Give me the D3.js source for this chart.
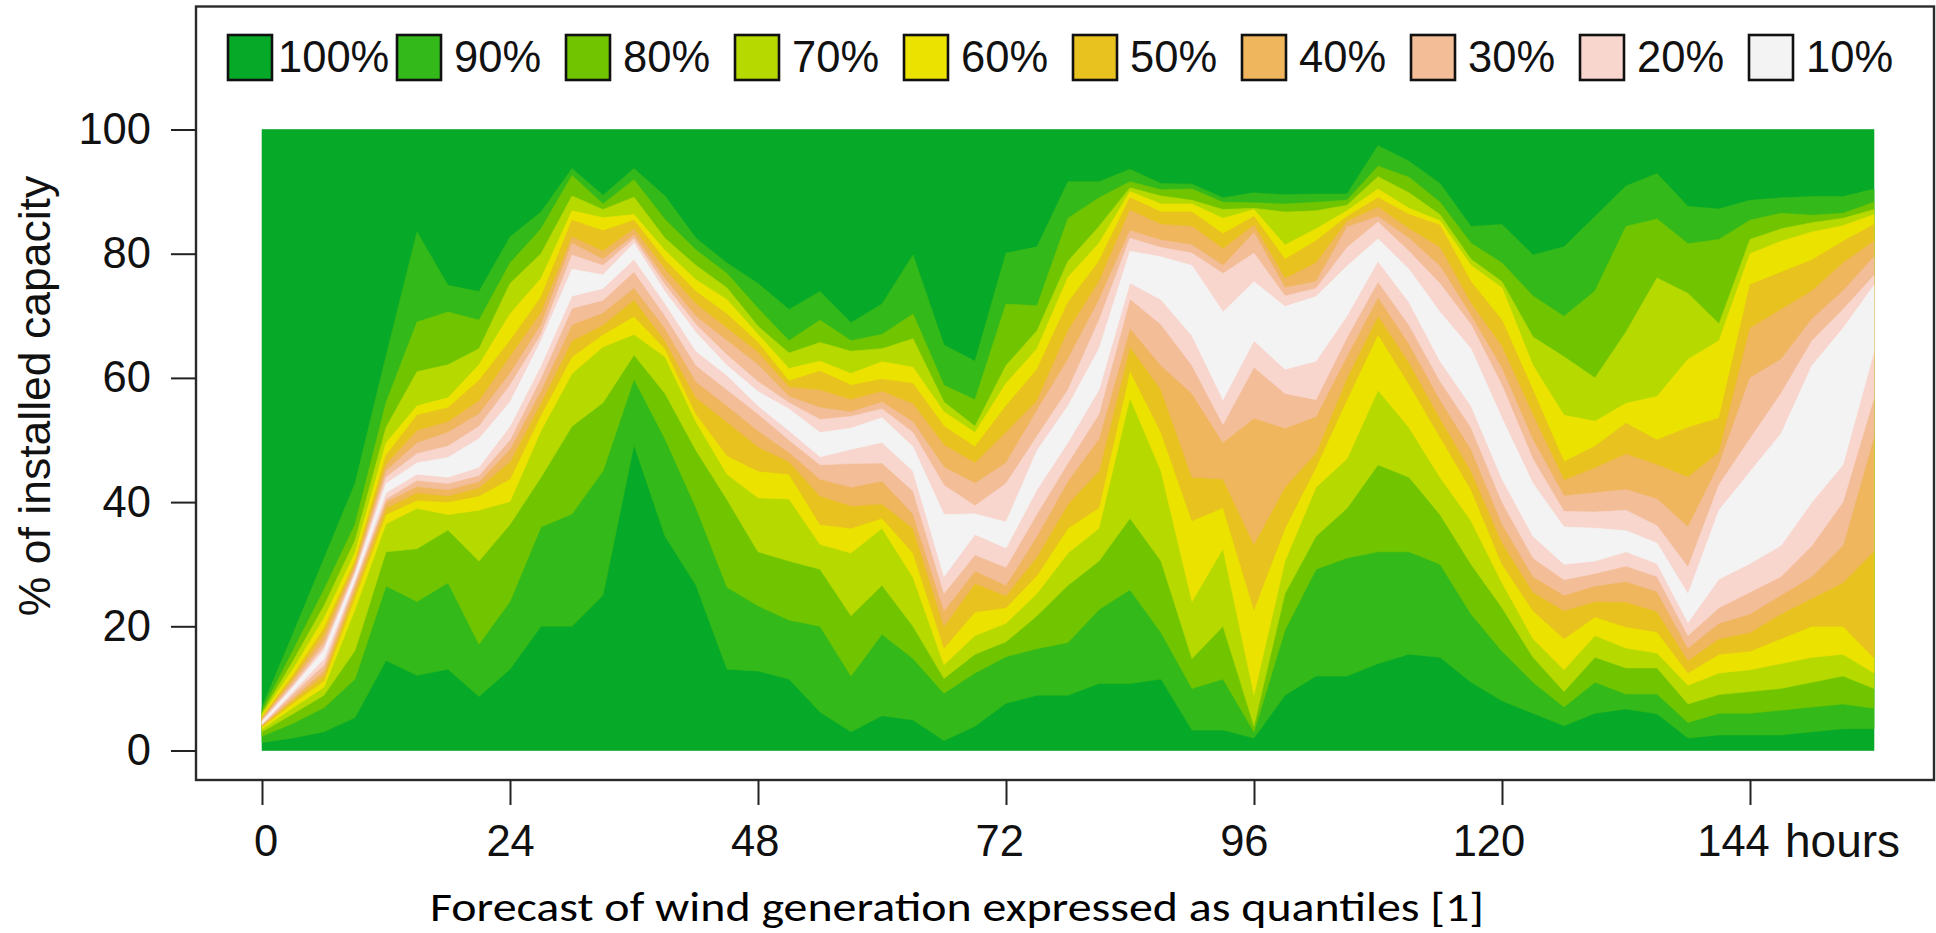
<!DOCTYPE html>
<html>
<head>
<meta charset="utf-8">
<script src="https://cdn.jsdelivr.net/npm/d3@7"></script>
<style>
  html, body { margin: 0; padding: 0; background: #ffffff; }
  svg { display: block; }
</style>
</head>
<body>
<svg id="chart" width="1936" height="933"></svg>
<script>
// Forecast horizon (hours ahead) at which the quantiles are given
const hours = [0, 3, 6, 9, 12, 15, 18, 21, 24, 27, 30, 33, 36, 39, 42, 45, 48, 51, 54, 57,
  60, 63, 66, 69, 72, 75, 78, 81, 84, 87, 90, 93, 96, 99, 102, 105, 108, 111, 114, 117,
  120, 123, 126, 129, 132, 135, 138, 141, 144, 147, 150, 153, 156];

// Quantiles of wind generation, % of installed capacity
const q05 = [1.3, 2.0, 3.0, 5.3, 14.5, 12.1, 13.1, 8.7, 13.1, 20.0, 20.0, 25.0, 49.2, 34.5, 26.6, 13.1, 12.8, 11.5, 6.2, 3.0, 5.6, 4.9, 1.6, 3.9, 7.6, 8.9, 8.9, 10.8, 10.8, 11.5, 3.3, 3.3, 2.0, 8.9, 12.0, 12.0, 14.0, 15.5, 15.0, 11.0, 8.0, 6.0, 4.0, 6.0, 6.7, 5.9, 2.0, 2.5, 2.5, 2.5, 3.0, 3.5, 3.5];
const q10 = [2.3, 4.4, 6.9, 11.5, 26.5, 24.0, 27.0, 17.1, 24.0, 36.0, 38.1, 45.0, 59.8, 50.2, 39.1, 26.3, 23.3, 21.0, 20.0, 12.0, 18.7, 14.8, 9.2, 12.5, 15.1, 16.4, 17.4, 22.7, 25.9, 19.0, 10.0, 11.5, 3.0, 19.4, 29.2, 31.0, 32.0, 32.0, 30.0, 22.0, 16.0, 11.0, 7.0, 11.0, 9.1, 9.1, 4.5, 6.0, 6.0, 6.5, 7.0, 7.5, 6.8];
const q15 = [3.0, 5.9, 8.9, 16.1, 32.0, 32.5, 35.5, 30.5, 36.4, 44.0, 52.2, 56.0, 63.7, 57.5, 48.3, 40.4, 32.0, 30.5, 29.2, 21.7, 26.6, 20.0, 11.6, 15.5, 17.5, 21.7, 26.6, 30.5, 37.4, 30.5, 14.8, 20.0, 4.0, 25.3, 34.5, 39.0, 46.0, 44.0, 38.0, 30.0, 23.0, 15.0, 9.5, 15.0, 13.3, 13.3, 7.5, 9.0, 9.5, 10.0, 11.0, 12.0, 10.0];
const q20 = [3.5, 6.9, 10.2, 22.7, 36.5, 39.0, 38.0, 38.7, 40.1, 51.5, 60.7, 65.0, 67.0, 63.4, 52.9, 44.5, 40.7, 40.5, 33.2, 31.8, 35.8, 27.9, 13.8, 18.5, 20.5, 25.3, 31.8, 35.8, 56.8, 45.0, 24.0, 32.5, 9.0, 30.5, 42.4, 47.0, 58.0, 52.0, 44.0, 37.0, 27.0, 18.0, 13.0, 18.5, 16.5, 15.7, 10.5, 12.5, 13.0, 14.0, 15.0, 15.5, 12.5];
const q25 = [3.8, 7.6, 11.2, 24.6, 38.0, 40.3, 40.0, 41.0, 43.7, 54.0, 63.4, 67.0, 69.9, 64.7, 54.2, 47.5, 45.0, 44.5, 36.4, 35.8, 37.4, 31.8, 16.5, 22.3, 23.0, 28.2, 35.8, 39.1, 61.1, 51.2, 37.0, 39.1, 22.7, 35.8, 45.6, 56.5, 67.0, 59.0, 50.5, 42.0, 30.0, 22.5, 18.0, 21.5, 19.9, 19.1, 12.5, 15.5, 16.0, 18.0, 20.0, 20.0, 14.9];
const q30 = [4.0, 8.1, 12.1, 25.6, 39.0, 41.5, 41.0, 42.3, 46.5, 56.0, 66.0, 68.5, 72.6, 66.0, 56.8, 52.9, 48.9, 46.5, 41.0, 39.4, 39.7, 35.8, 20.0, 26.9, 24.9, 31.2, 39.7, 45.0, 65.0, 58.1, 44.0, 43.7, 33.2, 42.4, 47.9, 60.0, 70.0, 62.5, 53.5, 45.0, 33.5, 25.5, 22.5, 24.0, 23.9, 22.4, 14.5, 18.0, 19.0, 22.0, 24.5, 27.0, 32.1];
const q35 = [4.1, 8.5, 12.9, 26.5, 40.0, 42.5, 42.0, 43.3, 48.5, 58.0, 68.6, 70.5, 74.5, 68.0, 59.4, 55.5, 51.5, 48.0, 43.7, 42.4, 43.4, 38.1, 22.5, 28.9, 26.6, 34.5, 43.4, 50.2, 68.0, 62.0, 57.5, 49.6, 53.5, 51.9, 53.8, 63.5, 73.0, 65.5, 56.5, 48.5, 36.5, 28.0, 25.0, 26.5, 27.2, 25.6, 16.5, 20.5, 22.0, 25.0, 28.0, 33.0, 50.5];
const q40 = [4.2, 9.1, 13.8, 27.1, 40.5, 43.5, 43.0, 44.3, 50.0, 60.0, 71.2, 72.5, 77.1, 70.0, 62.0, 58.1, 54.2, 50.0, 46.0, 46.2, 46.3, 41.8, 25.3, 31.5, 29.5, 38.1, 46.3, 54.2, 72.7, 68.6, 62.0, 52.5, 61.7, 57.5, 56.5, 66.5, 75.5, 68.5, 59.5, 52.0, 40.0, 31.0, 27.5, 28.5, 29.7, 28.0, 18.5, 23.0, 25.5, 28.0, 33.0, 40.0, 56.8];
const q45 = [4.3, 9.5, 14.8, 27.5, 41.5, 44.5, 44.0, 45.6, 52.2, 62.0, 73.2, 74.4, 79.1, 72.0, 64.3, 60.4, 55.5, 51.5, 47.3, 48.5, 49.6, 45.0, 28.0, 34.8, 32.6, 42.0, 49.6, 58.1, 75.3, 72.6, 66.8, 56.5, 66.0, 61.4, 62.7, 70.0, 78.8, 72.2, 62.7, 55.5, 43.7, 34.5, 30.0, 30.5, 32.0, 30.1, 20.6, 27.6, 30.1, 33.0, 40.0, 46.0, 64.2];
const q55 = [4.6, 10.2, 16.1, 28.3, 43.0, 46.3, 47.2, 50.2, 56.1, 66.0, 77.5, 76.6, 81.7, 73.9, 67.3, 62.0, 57.8, 55.0, 51.2, 51.9, 53.6, 48.9, 38.0, 38.1, 36.8, 48.3, 55.5, 64.7, 80.4, 79.5, 78.1, 70.6, 75.5, 71.5, 73.1, 78.0, 82.4, 77.5, 70.6, 64.7, 53.5, 43.0, 36.0, 35.8, 35.4, 33.4, 25.2, 38.7, 44.9, 51.0, 62.0, 68.0, 74.9];
const q60 = [4.8, 10.5, 16.7, 28.7, 44.0, 47.8, 49.0, 52.2, 58.8, 67.0, 79.8, 78.1, 82.4, 75.0, 68.6, 63.7, 59.4, 56.0, 53.3, 53.8, 55.0, 51.2, 42.7, 39.4, 43.0, 50.6, 58.1, 69.3, 82.5, 81.0, 80.1, 76.8, 80.1, 73.2, 74.4, 81.0, 85.1, 80.4, 75.2, 68.6, 58.8, 46.9, 38.5, 38.4, 38.7, 36.2, 29.5, 42.8, 50.2, 57.5, 66.0, 71.0, 76.5];
const q65 = [5.0, 11.0, 17.5, 29.2, 45.0, 49.5, 51.2, 54.2, 60.7, 68.5, 81.7, 79.1, 83.0, 76.0, 69.9, 66.0, 62.1, 57.0, 55.2, 54.5, 56.1, 52.9, 45.6, 43.0, 46.3, 54.8, 63.0, 72.6, 83.7, 82.2, 81.4, 78.1, 83.4, 74.5, 75.5, 84.3, 86.0, 82.5, 78.0, 70.0, 61.5, 50.0, 41.0, 41.5, 42.0, 40.5, 36.0, 46.0, 60.0, 63.0, 69.5, 74.0, 79.5];
const q70 = [5.2, 11.5, 18.6, 29.9, 46.0, 51.5, 52.9, 56.3, 63.4, 70.5, 82.7, 80.4, 84.0, 77.5, 71.9, 68.0, 64.1, 58.5, 58.0, 56.5, 57.8, 55.8, 49.2, 46.3, 51.2, 56.3, 67.6, 75.5, 87.0, 84.7, 84.4, 80.8, 84.6, 76.0, 78.5, 85.2, 87.5, 84.0, 81.0, 72.0, 65.0, 54.0, 43.5, 45.5, 47.7, 46.0, 44.0, 48.0, 68.0, 71.0, 74.0, 78.5, 82.0];
const q75 = [5.4, 12.1, 19.7, 30.5, 47.5, 54.0, 55.2, 59.6, 66.0, 73.0, 85.4, 83.7, 85.4, 79.0, 73.9, 70.3, 65.7, 59.5, 61.1, 58.8, 59.8, 59.1, 52.2, 48.9, 55.5, 61.4, 72.2, 78.8, 89.0, 86.7, 86.7, 83.2, 86.0, 79.1, 82.1, 86.0, 89.0, 86.3, 84.6, 75.5, 69.3, 58.0, 46.5, 49.0, 52.7, 50.0, 52.0, 53.5, 75.0, 77.0, 79.0, 82.0, 84.7];
const q80 = [5.7, 13.1, 21.3, 31.8, 49.5, 55.5, 56.8, 62.1, 70.3, 76.0, 86.9, 85.8, 86.3, 80.5, 75.8, 72.6, 67.0, 61.5, 62.7, 60.7, 62.6, 61.7, 54.5, 51.2, 59.1, 64.7, 76.2, 81.7, 90.0, 88.0, 88.0, 85.7, 87.1, 81.4, 84.0, 86.9, 90.4, 87.3, 85.3, 78.1, 74.5, 62.0, 54.0, 53.0, 55.9, 57.0, 63.0, 66.0, 80.0, 82.0, 83.5, 84.5, 86.3];
const q85 = [6.0, 14.4, 23.3, 33.8, 52.0, 61.0, 62.1, 64.7, 75.2, 80.0, 89.3, 87.1, 89.1, 82.5, 78.1, 74.5, 68.3, 64.0, 65.7, 64.3, 64.7, 66.3, 56.1, 52.2, 62.0, 67.6, 78.8, 84.4, 90.6, 89.3, 88.6, 87.1, 87.3, 86.7, 86.9, 87.8, 92.4, 89.8, 86.3, 79.1, 75.5, 66.6, 63.4, 60.0, 67.4, 76.1, 73.6, 68.7, 82.3, 84.0, 85.0, 85.7, 87.1];
const q90 = [6.4, 16.1, 25.9, 36.4, 56.0, 69.0, 70.6, 69.3, 78.5, 84.0, 92.6, 88.0, 91.9, 85.5, 80.6, 76.8, 71.2, 66.0, 69.3, 66.0, 67.0, 70.3, 58.8, 56.5, 71.9, 71.6, 85.7, 89.0, 91.6, 90.3, 90.4, 88.3, 88.2, 88.0, 88.3, 88.6, 94.1, 92.3, 88.3, 81.7, 78.5, 73.2, 69.9, 74.0, 84.4, 85.6, 81.6, 82.3, 85.4, 86.5, 86.2, 86.5, 88.3];
const q95 = [7.0, 18.8, 30.9, 43.0, 63.5, 83.5, 74.9, 73.9, 82.7, 86.7, 93.7, 89.4, 93.7, 89.3, 82.5, 78.5, 75.2, 71.0, 73.9, 68.9, 71.9, 79.8, 65.3, 62.7, 80.1, 81.1, 91.6, 91.6, 93.6, 91.3, 91.2, 89.0, 89.8, 89.5, 89.6, 89.6, 97.4, 94.9, 91.3, 84.4, 84.7, 79.8, 81.1, 86.0, 90.9, 92.9, 87.6, 87.2, 88.6, 89.0, 89.2, 89.2, 90.4];

// Central prediction intervals, widest first
const bandLabels = ["100%", "90%", "80%", "70%", "60%", "50%", "40%", "30%", "20%", "10%"];
const bandColors = ["#06A928", "#34B91A", "#70C500", "#B6D900", "#ECE200", "#E8C21F", "#EFB65D", "#F2BD97", "#F8D5CD", "#F3F3F3"];
const bandLower = [null, q05, q10, q15, q20, q25, q30, q35, q40, q45];
const bandUpper = [null, q95, q90, q85, q80, q75, q70, q65, q60, q55];
const capacityRange = [0, 100];

const yTicks = [0, 20, 40, 60, 80, 100];
const xTicks = [0, 24, 48, 72, 96, 120, 144];

const svg = d3.select("#chart");
const font = "'Liberation Sans', Arial, Helvetica, sans-serif";

const x = d3.scaleLinear().domain([0, 156]).range([262, 1874]);
const y = d3.scaleLinear().domain([0, 100]).range([750.5, 129.5]);
// tick labels sit on a slightly tighter spacing than the tick marks
const xLabel = d3.scaleLinear().domain([0, 144]).range([265.5, 1733]);

// --- fan of quantile bands ---
const fan = svg.append("g");
bandLabels.forEach((lab, k) => {
  const lo = bandLower[k], hi = bandUpper[k];
  const area = d3.area()
    .x((d, i) => x(hours[i]))
    .y0((d, i) => y(lo ? lo[i] : capacityRange[0]))
    .y1((d, i) => y(hi ? hi[i] : capacityRange[1]))
    .curve(d3.curveLinear);
  fan.append("path")
    .attr("d", area(hours))
    .attr("fill", bandColors[k])
    .attr("stroke", bandColors[k])
    .attr("stroke-width", 0.6)
    .attr("stroke-linejoin", "round");
});

// --- plot frame ---
svg.append("rect")
  .attr("x", 196).attr("y", 6.5)
  .attr("width", 1738).attr("height", 773.5)
  .attr("fill", "none")
  .attr("stroke", "#2a2a2a")
  .attr("stroke-width", 2.4);

// --- y axis ---
const yAxis = svg.append("g")
  .attr("transform", "translate(196,0)")
  .call(d3.axisLeft(y).tickValues(yTicks).tickSize(25).tickPadding(20));
yAxis.select(".domain").remove();
yAxis.selectAll(".tick line").attr("stroke", "#222").attr("stroke-width", 2);
yAxis.selectAll(".tick text")
  .attr("fill", "#111")
  .style("font-family", font)
  .style("font-size", "43.5px");

// --- x axis ---
const xAxis = svg.append("g")
  .attr("transform", "translate(0,780)")
  .call(d3.axisBottom(x).tickValues(xTicks).tickSize(25).tickPadding(20));
xAxis.select(".domain").remove();
xAxis.selectAll(".tick line").attr("stroke", "#222").attr("stroke-width", 2);
xAxis.selectAll(".tick text")
  .attr("fill", "#111")
  .attr("dx", d => xLabel(d) - x(d))
  .style("font-family", font)
  .style("font-size", "43.5px");

svg.append("text")
  .attr("x", 1785).attr("y", 856.5)
  .attr("fill", "#111")
  .style("font-family", font)
  .style("font-size", "46px")
  .text("hours");

// --- y axis title ---
svg.append("text")
  .attr("transform", "translate(50,396) rotate(-90)")
  .attr("text-anchor", "middle")
  .attr("fill", "#111")
  .style("font-family", font)
  .style("font-size", "44.5px")
  .text("% of installed capacity");

// --- legend ---
const legendX = d3.scaleLinear().domain([0, bandLabels.length - 1]).range([228, 1749]);
const legend = svg.append("g");
bandLabels.forEach((lab, k) => {
  const bx = legendX(k);
  legend.append("rect")
    .attr("x", bx).attr("y", 35)
    .attr("width", 44).attr("height", 45)
    .attr("fill", bandColors[k])
    .attr("stroke", "#111")
    .attr("stroke-width", 2.6);
  legend.append("text")
    .attr("x", bx + (lab.length > 3 ? 50 : 57))
    .attr("y", 72)
    .attr("fill", "#111")
    .style("font-family", font)
    .style("font-size", "43.5px")
    .text(lab);
});

// --- caption ---
svg.append("text")
  .attr("x", 430).attr("y", 921)
  .attr("textLength", 1054)
  .attr("lengthAdjust", "spacingAndGlyphs")
  .attr("fill", "#000")
  .style("font-family", "Carlito, Calibri, Lato, sans-serif")
  .style("font-size", "40px")
  .text("Forecast of wind generation expressed as quantiles [1]");
</script>
</body>
</html>
